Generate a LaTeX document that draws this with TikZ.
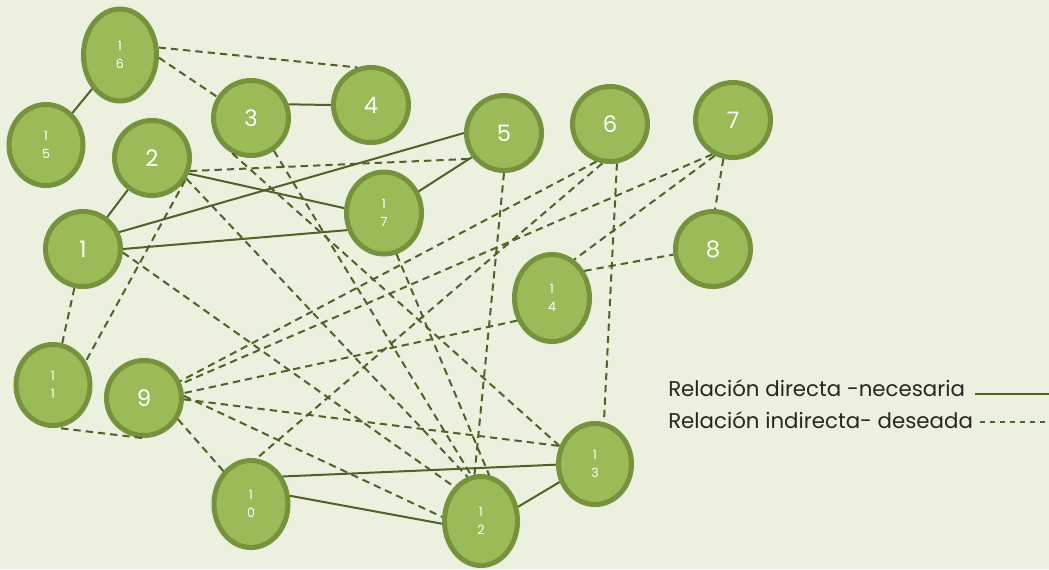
\documentclass[tikz,border=0pt]{standalone}
\usepackage{fontspec}
\setmainfont{Poppins}
\usepackage{tikz}
\usetikzlibrary{positioning,shapes.geometric}
\definecolor{bgcol}  {RGB}{235,241,222}
\definecolor{nodecol}{RGB}{155,187,89}
\definecolor{bordcol}{RGB}{118,146,60}
\definecolor{linecol}{RGB}{79,98,40}
\definecolor{textcol}{RGB}{38,38,38}
\begin{document}
\begin{tikzpicture}[x=0.75pt,y=-0.75pt,
  nd/.style={ellipse,draw=bordcol,fill=nodecol,line width=3.75pt,
             minimum width=56.25pt,minimum height=56.25pt,inner sep=0pt,
             text=white,font=\fontsize{17}{17}\selectfont},
  ndd/.style={nd,align=center,font=\fontsize{9.5}{14}\selectfont},
  conn/.style={linecol,line width=1.5pt},
  dconn/.style={linecol,line width=1.5pt,dash pattern=on 5.5pt off 3.75pt},
  legtxt/.style={anchor=west,inner sep=0pt,text=textcol,
                 font=\fontsize{16}{16}\selectfont}
]
\fill[bgcol] (0,0) rectangle (1049,569);
\useasboundingbox (0,0) rectangle (1049,569);
\node[ndd,minimum width=54.75pt,minimum height=69pt] (n16) at (120,55) {1\\6};
\node[ndd,minimum width=55.5pt,minimum height=60.75pt] (n15) at (46,145) {1\\5};
\node[nd] (n3) at (251,118) {3};
\node[nd] (n4) at (371,105) {4};
\node[nd] (n2) at (152,158) {2};
\node[nd] (n1) at (83,249) {1};
\node[ndd,minimum height=61.5pt] (n17) at (384,213) {1\\7};
\node[nd] (n5) at (504,133) {5};
\node[nd] (n6) at (610,124) {6};
\node[nd] (n7) at (733,120) {7};
\node[nd] (n8) at (713,249) {8};
\node[ndd,minimum height=65.25pt] (n14) at (552,298) {1\\4};
\node[ndd,minimum width=55.5pt,minimum height=60.75pt] (n11) at (53,385) {1\\1};
\node[nd] (n9) at (144,398) {9};
\node[ndd,minimum width=55.5pt,minimum height=65.25pt] (n10) at (251,504) {1\\0};
\node[ndd,minimum width=54.75pt,minimum height=66.75pt] (n12) at (481,521) {1\\2};
\node[ndd,minimum width=54.75pt,minimum height=60.75pt] (n13) at (595,464) {1\\3};
% direct relations
\draw[conn] (n15)--(n16);
\draw[conn] (n3.20)--(n4.180);
\draw[conn] (n2)--(n1);
\draw[conn] (n2.-23)--(n17.173);
\draw[conn] (n1.25)--(n5.180);
\draw[conn] (n1.0)--(n17.205);
\draw[conn] (n17.32)--(n5.217);
\draw[conn] (n10.41)--(n13.181);
\draw[conn] (n10.12)--(n12.184);
\draw[conn] (n12.21)--(n13.207);
% indirect relations
\draw[dconn] (n16.11)--(n4.110);
\draw[dconn] (n16.-4)--(n3.148);
\draw[dconn] (n2.-19)--(n5.220);
\draw[dconn] (n1)--(n11);
\draw[dconn] (n2.-34)--(n11.36);
\draw[dconn] (n2.-31)--(n12.107);
\draw[dconn] (n1.-5)--(n12.128);
\draw[dconn] (n3.-55)--(n12.102);
\draw[dconn] (n3.242)--(n13.153);
\draw[dconn] (n5.south)--(n12.98);
\draw[dconn] (n17.-73)--(n12.80);
\draw[dconn] (n6.250)--(n9.25);
\draw[dconn] (n6.259)--(n10.83);
\draw[dconn] (n6.-80)--(n13.78);
\draw[dconn] (n7.239)--(n9.21);
\draw[dconn] (n7.243)--(n14.60);
\draw[dconn] (n7.256)--(n8.87);
\draw[dconn] (n14.40)--(n8.188);
\draw[dconn] (n14.213)--(n9.7);
\draw[dconn] (n9.-2)--(n13.153);
\draw[dconn] (n9.3)--(n12.174);
\draw[dconn] (n9.-32)--(n10.130);
\draw[dconn] (n9.267)--(n11.-85);
% legend
\node[legtxt] (legd) at (668,388) {Relación directa -necesaria};
\node[legtxt] (legi) at (668,420) {Relación indirecta- deseada};
\coordinate (legdbeg) at (975,394);
\coordinate (legdend) at (1049,394);
\coordinate (legibeg) at (980,422);
\coordinate (legiend) at (1049,422);
\draw[linecol,line width=1.2pt] (legdbeg)--(legdend);
\draw[linecol,line width=1.2pt,dash pattern=on 4pt off 3.5pt] (legibeg)--(legiend);
\end{tikzpicture}
\end{document}
